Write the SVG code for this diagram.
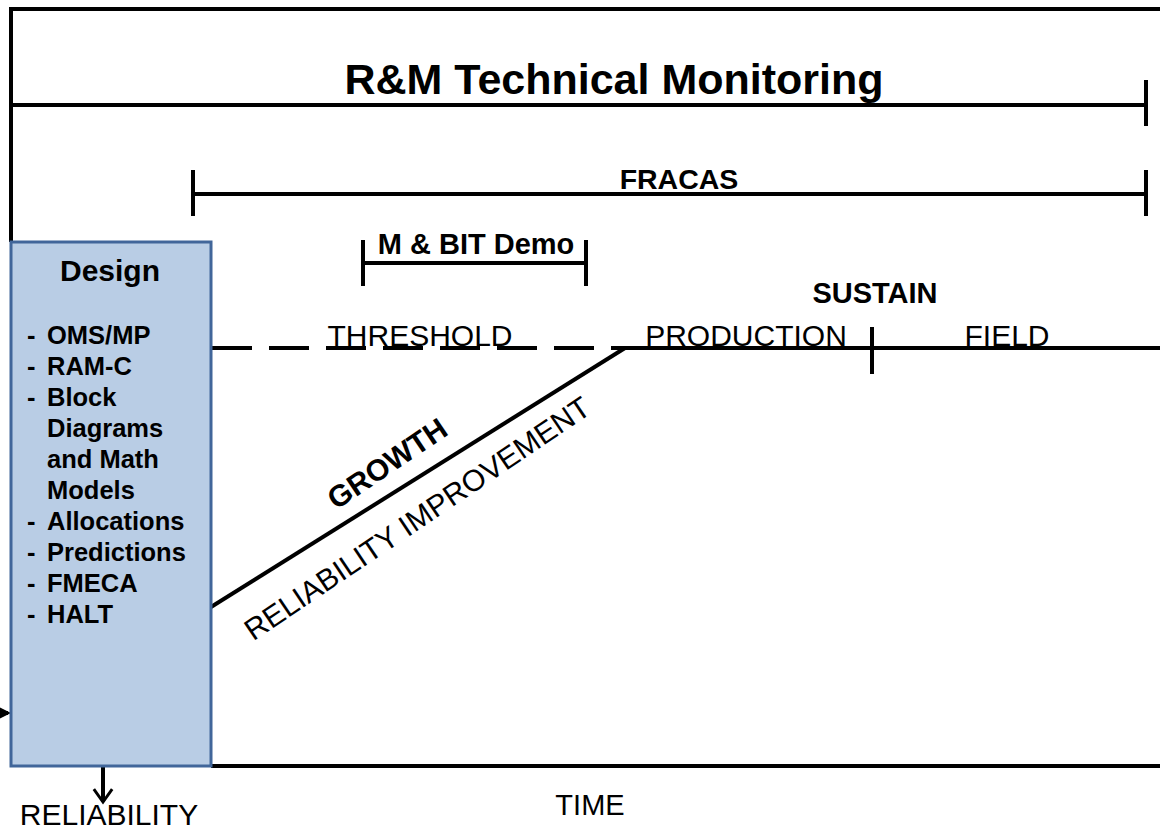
<svg xmlns="http://www.w3.org/2000/svg" width="1160" height="829" viewBox="0 0 1160 829">
<defs>
<style>
.ln{stroke:#000;stroke-width:4;fill:none}
.b{font-family:"Liberation Sans",Arial,sans-serif;font-weight:bold;fill:#000}
.n{font-family:"Liberation Sans",Arial,sans-serif;fill:#000}
</style>
<marker id="ah" viewBox="0 0 10 10" refX="8" refY="5" markerWidth="4" markerHeight="4" orient="auto"><path d="M0,0 L10,5 L0,10 z" fill="#000"/></marker>
<marker id="ov" viewBox="0 0 12 12" refX="10" refY="6" markerWidth="5.5" markerHeight="5.5" orient="auto" markerUnits="strokeWidth"><path d="M3,1 L10,6 L3,11" fill="none" stroke="#000" stroke-width="1.6"/></marker>
</defs>
<rect width="1160" height="829" fill="#fff"/>
<g id="connectors">
<path class="ln" d="M11,242 V9 H1160"/>
<path class="ln" d="M11,105 H1146 M1146,80 V126"/>
<path class="ln" d="M193,194 H1146 M193,170 V216 M1146,170 V216"/>
<path class="ln" d="M363,263 H586 M363,240 V286 M586,240 V286"/>
<path class="ln" d="M212,348 H625" stroke-dasharray="40 17"/>
<path class="ln" d="M625,348 H1160 M872,327 V374"/>
<path class="ln" d="M211,607 L625,348"/>
<path class="ln" d="M211,766 H1160"/>
<path class="ln" d="M0,713 H8" marker-end="url(#ah)"/>
<path class="ln" d="M103,767 V802" marker-end="url(#ov)"/>
</g>
<g id="title"><text class="b" x="614" y="94" font-size="43" text-anchor="middle">R&amp;M Technical Monitoring</text></g>
<g id="fracas"><text class="b" x="679" y="189" font-size="28.5" text-anchor="middle">FRACAS</text></g>
<g id="mbit"><text class="b" x="476" y="254" font-size="29" text-anchor="middle">M &amp; BIT Demo</text></g>
<g id="design">
<rect x="11" y="242" width="200" height="524" fill="#b9cde5" stroke="#41669a" stroke-width="3"/>
<text class="b" x="110" y="281" font-size="30" text-anchor="middle">Design</text>
<g class="b" font-size="25.5">
<text x="27" y="344">-</text><text x="47" y="344">OMS/MP</text>
<text x="27" y="375">-</text><text x="47" y="375">RAM-C</text>
<text x="27" y="406">-</text><text x="47" y="406">Block</text>
<text x="47" y="437">Diagrams</text>
<text x="47" y="468">and Math</text>
<text x="47" y="499">Models</text>
<text x="27" y="530">-</text><text x="47" y="530">Allocations</text>
<text x="27" y="561">-</text><text x="47" y="561">Predictions</text>
<text x="27" y="592">-</text><text x="47" y="592">FMECA</text>
<text x="27" y="623">-</text><text x="47" y="623">HALT</text>
</g>
</g>
<g id="phases">
<text class="n" x="420" y="346" font-size="30" text-anchor="middle">THRESHOLD</text>
<text class="n" x="746" y="346" font-size="30" text-anchor="middle">PRODUCTION</text>
<text class="n" x="1007" y="346" font-size="30" text-anchor="middle">FIELD</text>
<text class="b" x="875" y="303" font-size="29" text-anchor="middle">SUSTAIN</text>
</g>
<g id="growth">
<text class="b" font-size="30" text-anchor="middle" transform="translate(393,472) rotate(-34)">GROWTH</text>
<text class="n" font-size="30" text-anchor="middle" transform="translate(423,527) rotate(-34)">RELIABILITY  IMPROVEMENT</text>
</g>
<g id="axes">
<text class="n" x="590" y="815" font-size="29" text-anchor="middle">TIME</text>
<text class="n" x="109" y="825" font-size="30" text-anchor="middle">RELIABILITY</text>
</g>
</svg>
